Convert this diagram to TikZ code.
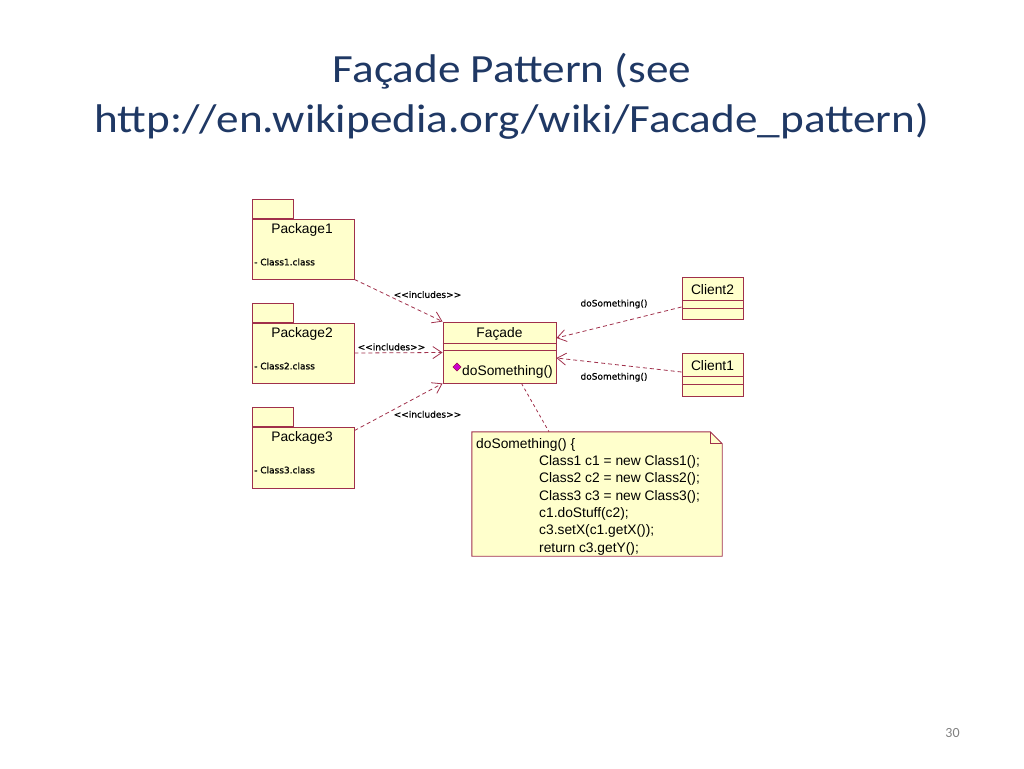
\documentclass[tikz,border=0pt]{standalone}
\usepackage{fontspec}
\setmainfont{Carlito}
\newfontfamily\titlefont{Carlito}[FakeStretch=1.13]
\newfontfamily\umlfont{Liberation Sans}
\newfontfamily\tagfont{DejaVu Sans}[FakeBold=0.8]
\usetikzlibrary{arrows.meta,shapes.geometric}

\definecolor{umlred}{RGB}{160,48,75}
\definecolor{umlfill}{RGB}{255,255,204}
\definecolor{titleblue}{RGB}{31,56,100}
\definecolor{opmagenta}{RGB}{204,0,204}

\tikzset{
	umlbox/.style={draw=umlred, fill=umlfill, line width=0.9pt, inner sep=0pt},
	pkgtab/.style={umlbox, minimum width=41pt, minimum height=19pt, anchor=south west},
	umltext/.style={font=\umlfont\fontsize{13.8}{16}\selectfont, inner sep=0pt},
	tagtext/.style={font=\tagfont\fontsize{9}{11}\selectfont, inner sep=1pt},
	dep/.style={draw=umlred, line width=0.8pt, dash pattern=on 4pt off 3pt,
		-{Straight Barb[length=9pt,width=12pt]}},
	titletext/.style={anchor=base, text=titleblue, font=\titlefont\fontsize{40}{48}\selectfont},
}

\begin{document}
\begin{tikzpicture}[x=1pt, y=-1pt]
	\useasboundingbox (0,0) rectangle (1024,768);

	% title and page number
	\node[titletext] (title1) at (512,82) {Façade Pattern (see};
	\node[titletext] (title2) at (512,132) {http://en.wikipedia.org/wiki/Facade\_pattern)};
	\node[anchor=base, text=gray, font=\fontsize{14}{16}\selectfont] (pg) at (952.5,737) {30};

	% packages
	\node[umlbox, minimum width=102pt, minimum height=60pt] (p1) at (303,249) {};
	\node[pkgtab] (p1tab) at (p1.north west) {};
	\node[umltext] (p1name) at (302,229.5) {Package1};
	\node[tagtext, anchor=west] (p1cls) at (253,262) {- Class1.class};

	\node[umlbox, minimum width=102pt, minimum height=60pt] (p2) at (303,353) {};
	\node[pkgtab] (p2tab) at (p2.north west) {};
	\node[umltext] (p2name) at (302,333.5) {Package2};
	\node[tagtext, anchor=west] (p2cls) at (253,366) {- Class2.class};

	\node[umlbox, minimum width=102pt, minimum height=61pt] (p3) at (303,457.5) {};
	\node[pkgtab] (p3tab) at (p3.north west) {};
	\node[umltext] (p3name) at (302,437.5) {Package3};
	\node[tagtext, anchor=west] (p3cls) at (253,470) {- Class3.class};

	% facade class
	\node[umlbox, minimum width=113pt, minimum height=61pt] (f) at (499.5,352.5) {};
	\draw[umlred, line width=0.9pt] ([yshift=-22pt]f.north west) -- ([yshift=-22pt]f.north east);
	\draw[umlred, line width=0.9pt] ([yshift=-29pt]f.north west) -- ([yshift=-29pt]f.north east);
	\node[umltext] (fname) at (499.5,334) {Façade};
	\node[diamond, fill=opmagenta, draw=purple!70!black, line width=0.4pt,
		minimum size=8.5pt, inner sep=0pt] (fdia) at (457,367) {};
	\node[umltext, anchor=west] (fop) at (462,372) {doSomething()};

	% clients
	\node[umlbox, minimum width=61pt, minimum height=42pt] (c2) at (712.5,298) {};
	\draw[umlred, line width=0.9pt] ([yshift=-24pt]c2.north west) -- ([yshift=-24pt]c2.north east);
	\draw[umlred, line width=0.9pt] ([yshift=-32pt]c2.north west) -- ([yshift=-32pt]c2.north east);
	\node[umltext] (c2name) at (712.5,289.5) {Client2};

	\node[umlbox, minimum width=61pt, minimum height=43pt] (c1) at (712.5,374.5) {};
	\draw[umlred, line width=0.9pt] ([yshift=-24pt]c1.north west) -- ([yshift=-24pt]c1.north east);
	\draw[umlred, line width=0.9pt] ([yshift=-32pt]c1.north west) -- ([yshift=-32pt]c1.north east);
	\node[umltext] (c1name) at (712.5,365.5) {Client1};

	% note
	\node[minimum width=250pt, minimum height=124pt, inner sep=0pt] (n) at (597,494) {};
	\filldraw[umlbox] (n.north west) -- ([xshift=-12pt]n.north east) -- ([yshift=-12pt]n.north east)
		-- (n.south east) -- (n.south west) -- cycle;
	\draw[umlred, line width=0.9pt] ([xshift=-12pt]n.north east) -- ([xshift=-12pt,yshift=-12pt]n.north east)
		-- ([yshift=-12pt]n.north east);
	\node[umltext, anchor=north west, align=left, font=\umlfont\fontsize{13.8}{17.3}\selectfont] (ncode) at (476,438)
		{doSomething() \{\\
		\hspace*{63pt}Class1 c1 = new Class1();\\
		\hspace*{63pt}Class2 c2 = new Class2();\\
		\hspace*{63pt}Class3 c3 = new Class3();\\
		\hspace*{63pt}c1.doStuff(c2);\\
		\hspace*{63pt}c3.setX(c1.getX());\\
		\hspace*{63pt}return c3.getY();};

	% dependencies
	\draw[dep] (p1.south east) -- node[tagtext, pos=0.43, anchor=west, yshift=3pt]{<<includes>>} (f.north west);
	\draw[dep] (p2.east) -- node[tagtext, pos=0.42, above, yshift=1pt]{<<includes>>} (f.west);
	\draw[dep] ([yshift=-4pt]p3.north east) -- node[tagtext, pos=0.43, anchor=west, yshift=-4pt]{<<includes>>} (f.south west);
	\draw[dep] ([yshift=-9pt]c2.west) -- node[tagtext, pos=0.54, anchor=south, yshift=14pt]{doSomething()} ([yshift=14.5pt]f.east);
	\draw[dep] ([yshift=2.5pt]c1.west) -- node[tagtext, pos=0.54, anchor=north, yshift=-7pt]{doSomething()} ([yshift=-5.5pt]f.east);
	\draw[umlred, line width=0.8pt, dash pattern=on 3pt off 3pt] ([xshift=22pt]f.south) -- ([xshift=-48pt]n.north);
\end{tikzpicture}
\end{document}
